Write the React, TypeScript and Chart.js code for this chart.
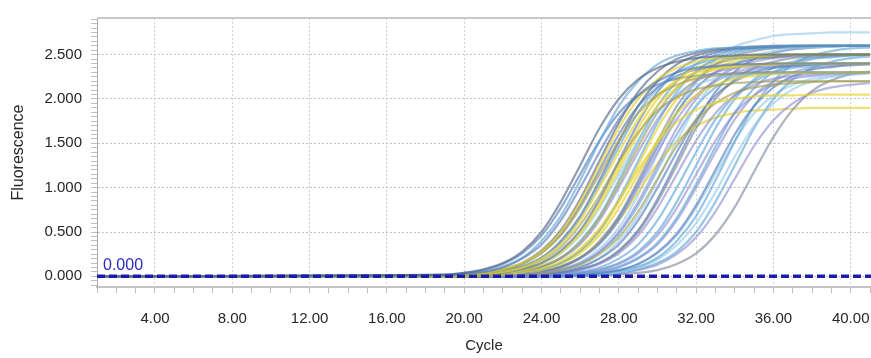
import React, { useEffect, useRef } from "react";
import { Chart, registerables } from "chart.js";

Chart.register(...registerables);

const CYCLES = [1, 19, 20, 21, 22, 23, 24, 25, 26, 27, 28, 29, 30, 31, 32, 33, 34, 35, 36, 37, 38, 39, 40, 41];

// Fluorescence readings per well (one row per curve, values at CYCLES)
const CURVES: number[][] = [
  [0, 0.02, 0.04, 0.08, 0.15, 0.28, 0.50, 0.84, 1.25, 1.67, 2.00, 2.22, 2.35, 2.42, 2.46, 2.48, 2.49, 2.50, 2.50, 2.50, 2.50, 2.50, 2.50, 2.50],
  [0, 0.01, 0.03, 0.05, 0.10, 0.20, 0.36, 0.63, 1.00, 1.40, 1.77, 2.04, 2.20, 2.30, 2.35, 2.37, 2.39, 2.39, 2.40, 2.40, 2.40, 2.40, 2.40, 2.40],
  [0, 0.01, 0.03, 0.06, 0.11, 0.21, 0.40, 0.68, 1.08, 1.52, 1.92, 2.20, 2.39, 2.49, 2.54, 2.57, 2.58, 2.59, 2.60, 2.60, 2.60, 2.60, 2.60, 2.60],
  [0, 0.01, 0.02, 0.04, 0.08, 0.15, 0.28, 0.50, 0.84, 1.25, 1.67, 2.00, 2.22, 2.35, 2.42, 2.46, 2.48, 2.49, 2.50, 2.50, 2.50, 2.50, 2.50, 2.50],
  [0, 0.01, 0.02, 0.04, 0.07, 0.14, 0.26, 0.46, 0.77, 1.15, 1.53, 1.84, 2.04, 2.16, 2.23, 2.26, 2.28, 2.29, 2.30, 2.30, 2.30, 2.30, 2.30, 2.30],
  [0, 0.01, 0.02, 0.04, 0.08, 0.15, 0.29, 0.52, 0.87, 1.30, 1.73, 2.08, 2.31, 2.45, 2.52, 2.56, 2.58, 2.59, 2.60, 2.60, 2.60, 2.60, 2.60, 2.60],
  [0, 0.00, 0.01, 0.03, 0.05, 0.10, 0.20, 0.36, 0.63, 1.00, 1.40, 1.77, 2.04, 2.20, 2.30, 2.35, 2.37, 2.39, 2.40, 2.40, 2.40, 2.40, 2.40, 2.40],
  [0, 0.00, 0.01, 0.03, 0.06, 0.11, 0.21, 0.38, 0.66, 1.04, 1.46, 1.85, 2.12, 2.30, 2.39, 2.45, 2.47, 2.49, 2.50, 2.50, 2.50, 2.50, 2.50, 2.50],
  [0, 0.00, 0.01, 0.02, 0.05, 0.09, 0.18, 0.33, 0.58, 0.91, 1.29, 1.62, 1.87, 2.02, 2.11, 2.15, 2.18, 2.19, 2.20, 2.20, 2.20, 2.20, 2.20, 2.20],
  [0, 0.00, 0.01, 0.02, 0.04, 0.08, 0.15, 0.29, 0.52, 0.87, 1.30, 1.73, 2.08, 2.31, 2.45, 2.52, 2.56, 2.58, 2.59, 2.60, 2.60, 2.60, 2.60, 2.60],
  [0, 0.00, 0.01, 0.02, 0.04, 0.07, 0.14, 0.27, 0.48, 0.80, 1.20, 1.60, 1.92, 2.13, 2.26, 2.33, 2.36, 2.38, 2.39, 2.40, 2.40, 2.40, 2.40, 2.40],
  [0, 0.00, 0.01, 0.02, 0.04, 0.07, 0.14, 0.26, 0.46, 0.77, 1.15, 1.53, 1.84, 2.04, 2.16, 2.23, 2.26, 2.28, 2.29, 2.30, 2.30, 2.30, 2.30, 2.30],
  [0, 0, 0.00, 0.01, 0.03, 0.06, 0.11, 0.21, 0.38, 0.66, 1.04, 1.46, 1.85, 2.12, 2.30, 2.39, 2.45, 2.47, 2.49, 2.50, 2.50, 2.50, 2.50, 2.50],
  [0, 0, 0.00, 0.01, 0.02, 0.05, 0.09, 0.17, 0.31, 0.54, 0.85, 1.20, 1.51, 1.74, 1.88, 1.96, 2.00, 2.03, 2.04, 2.04, 2.05, 2.05, 2.05, 2.05],
  [0, 0, 0.00, 0.01, 0.03, 0.05, 0.10, 0.20, 0.36, 0.63, 1.00, 1.40, 1.77, 2.04, 2.20, 2.30, 2.35, 2.37, 2.39, 2.40, 2.40, 2.40, 2.40, 2.40],
  [0, 0, 0, 0.01, 0.02, 0.04, 0.08, 0.15, 0.29, 0.52, 0.87, 1.30, 1.73, 2.08, 2.31, 2.45, 2.52, 2.56, 2.58, 2.59, 2.60, 2.60, 2.60, 2.60],
  [0, 0, 0, 0.01, 0.02, 0.04, 0.07, 0.14, 0.26, 0.46, 0.77, 1.15, 1.53, 1.84, 2.04, 2.16, 2.23, 2.26, 2.28, 2.29, 2.30, 2.30, 2.30, 2.30],
  [0, 0, 0, 0.00, 0.01, 0.03, 0.06, 0.11, 0.21, 0.38, 0.66, 1.04, 1.46, 1.85, 2.12, 2.30, 2.39, 2.45, 2.47, 2.49, 2.50, 2.50, 2.50, 2.50],
  [0, 0, 0, 0.00, 0.01, 0.03, 0.05, 0.10, 0.20, 0.36, 0.63, 1.00, 1.40, 1.77, 2.04, 2.20, 2.30, 2.35, 2.37, 2.39, 2.40, 2.40, 2.40, 2.40],
  [0, 0, 0, 0, 0.01, 0.02, 0.03, 0.07, 0.13, 0.25, 0.44, 0.73, 1.10, 1.47, 1.76, 1.95, 2.07, 2.13, 2.16, 2.18, 2.19, 2.20, 2.20, 2.20],
  [0, 0, 0, 0, 0.01, 0.02, 0.04, 0.08, 0.15, 0.28, 0.50, 0.84, 1.25, 1.67, 2.00, 2.22, 2.35, 2.42, 2.46, 2.48, 2.49, 2.50, 2.50, 2.50],
  [0, 0, 0, 0, 0.00, 0.01, 0.03, 0.05, 0.10, 0.20, 0.36, 0.63, 1.00, 1.40, 1.77, 2.04, 2.20, 2.30, 2.35, 2.37, 2.39, 2.40, 2.40, 2.40],
  [0, 0, 0, 0, 0.00, 0.01, 0.03, 0.06, 0.11, 0.21, 0.40, 0.68, 1.08, 1.52, 1.92, 2.20, 2.39, 2.49, 2.54, 2.57, 2.58, 2.59, 2.60, 2.60],
  [0, 0, 0, 0, 0, 0.01, 0.02, 0.04, 0.07, 0.14, 0.26, 0.46, 0.77, 1.15, 1.53, 1.84, 2.04, 2.16, 2.23, 2.26, 2.28, 2.29, 2.30, 2.30],
  [0, 0, 0, 0, 0, 0.01, 0.02, 0.04, 0.08, 0.15, 0.28, 0.50, 0.84, 1.25, 1.67, 2.00, 2.22, 2.35, 2.42, 2.46, 2.48, 2.49, 2.50, 2.50],
  [0, 0, 0, 0, 0, 0.00, 0.01, 0.03, 0.05, 0.10, 0.20, 0.36, 0.63, 1.00, 1.40, 1.77, 2.04, 2.20, 2.30, 2.35, 2.37, 2.39, 2.40, 2.40],
  [0, 0, 0, 0, 0, 0, 0.01, 0.02, 0.04, 0.07, 0.14, 0.26, 0.46, 0.77, 1.15, 1.53, 1.84, 2.04, 2.16, 2.23, 2.26, 2.28, 2.29, 2.30],
  [0, 0, 0, 0, 0, 0, 0.00, 0.01, 0.03, 0.06, 0.11, 0.21, 0.38, 0.66, 1.04, 1.46, 1.85, 2.12, 2.30, 2.39, 2.45, 2.47, 2.49, 2.50],
  [0, 0, 0, 0, 0, 0, 0, 0.01, 0.02, 0.04, 0.07, 0.14, 0.27, 0.48, 0.80, 1.20, 1.60, 1.92, 2.13, 2.26, 2.33, 2.36, 2.38, 2.39],
  [0, 0, 0, 0, 0, 0, 0, 0.00, 0.01, 0.03, 0.06, 0.11, 0.21, 0.40, 0.68, 1.08, 1.52, 1.92, 2.20, 2.39, 2.49, 2.54, 2.57, 2.58],
  [0, 0, 0, 0, 0, 0, 0, 0.00, 0.01, 0.03, 0.05, 0.10, 0.19, 0.35, 0.60, 0.95, 1.35, 1.70, 1.95, 2.11, 2.20, 2.25, 2.27, 2.29],
  [0, 0, 0, 0, 0, 0, 0, 0, 0.01, 0.02, 0.04, 0.08, 0.15, 0.28, 0.50, 0.84, 1.25, 1.67, 2.00, 2.22, 2.35, 2.42, 2.46, 2.48],
  [0, 0, 0, 0, 0, 0, 0, 0, 0.01, 0.02, 0.03, 0.07, 0.13, 0.25, 0.44, 0.73, 1.10, 1.47, 1.76, 1.95, 2.07, 2.13, 2.16, 2.18],
  [0, 0, 0, 0, 0, 0, 0, 0, 0, 0.01, 0.02, 0.04, 0.07, 0.14, 0.26, 0.47, 0.78, 1.18, 1.57, 1.88, 2.09, 2.21, 2.28, 2.31],
  [0, 0, 0, 0.01, 0.02, 0.03, 0.06, 0.11, 0.21, 0.38, 0.63, 0.95, 1.27, 1.52, 1.69, 1.79, 1.84, 1.87, 1.88, 1.89, 1.90, 1.90, 1.90, 1.90],
  [0, 0, 0, 0, 0.01, 0.02, 0.04, 0.08, 0.16, 0.31, 0.55, 0.92, 1.38, 1.83, 2.20, 2.44, 2.59, 2.66, 2.71, 2.73, 2.74, 2.75, 2.75, 2.75],
  [0, 0.02, 0.04, 0.07, 0.14, 0.26, 0.46, 0.77, 1.15, 1.53, 1.84, 2.04, 2.16, 2.23, 2.26, 2.28, 2.29, 2.30, 2.30, 2.30, 2.30, 2.30, 2.30, 2.30],
  [0, 0.00, 0.01, 0.02, 0.04, 0.08, 0.15, 0.28, 0.50, 0.84, 1.25, 1.67, 2.00, 2.22, 2.35, 2.42, 2.46, 2.48, 2.49, 2.50, 2.50, 2.50, 2.50, 2.50],
  [0, 0, 0, 0, 0, 0, 0.00, 0.01, 0.03, 0.05, 0.10, 0.20, 0.36, 0.63, 1.00, 1.40, 1.77, 2.04, 2.20, 2.30, 2.35, 2.37, 2.39, 2.40],
  [0, 0, 0, 0.00, 0.01, 0.03, 0.06, 0.11, 0.21, 0.40, 0.68, 1.08, 1.52, 1.92, 2.20, 2.39, 2.49, 2.54, 2.57, 2.58, 2.59, 2.60, 2.60, 2.60],
  [0, 0.01, 0.02, 0.04, 0.07, 0.14, 0.27, 0.48, 0.80, 1.20, 1.60, 1.92, 2.13, 2.26, 2.33, 2.36, 2.38, 2.39, 2.40, 2.40, 2.40, 2.40, 2.40, 2.40],
  [0, 0, 0.00, 0.01, 0.03, 0.06, 0.11, 0.21, 0.40, 0.68, 1.08, 1.52, 1.92, 2.20, 2.39, 2.49, 2.54, 2.57, 2.58, 2.59, 2.60, 2.60, 2.60, 2.60],
  [0, 0, 0, 0.01, 0.02, 0.04, 0.08, 0.15, 0.28, 0.50, 0.84, 1.25, 1.67, 2.00, 2.22, 2.35, 2.42, 2.46, 2.48, 2.49, 2.50, 2.50, 2.50, 2.50],
  [0, 0, 0, 0, 0.01, 0.02, 0.04, 0.07, 0.14, 0.27, 0.48, 0.80, 1.20, 1.60, 1.92, 2.13, 2.26, 2.33, 2.36, 2.38, 2.39, 2.40, 2.40, 2.40],
  [0, 0, 0, 0, 0, 0.01, 0.02, 0.04, 0.08, 0.15, 0.29, 0.52, 0.87, 1.30, 1.73, 2.08, 2.31, 2.45, 2.52, 2.56, 2.58, 2.59, 2.60, 2.60],
  [0, 0, 0, 0, 0, 0, 0.01, 0.02, 0.04, 0.08, 0.15, 0.28, 0.50, 0.84, 1.25, 1.67, 2.00, 2.22, 2.35, 2.42, 2.46, 2.48, 2.49, 2.50],
  [0, 0, 0, 0, 0, 0, 0, 0.01, 0.02, 0.04, 0.07, 0.14, 0.26, 0.46, 0.77, 1.15, 1.53, 1.84, 2.04, 2.16, 2.23, 2.26, 2.28, 2.29],
  [0, 0.00, 0.01, 0.03, 0.06, 0.11, 0.21, 0.40, 0.68, 1.08, 1.52, 1.92, 2.20, 2.39, 2.49, 2.54, 2.57, 2.58, 2.59, 2.60, 2.60, 2.60, 2.60, 2.60],
];

// Threshold
const THRESHOLD = 0.0;

// Axis ticks / labels
const X_MIN = 1;
const X_MAX = 41.05;
const X_LABEL_STEP = 4;
const Y_MIN = -0.12;
const Y_MAX = 2.913;
const Y_LABELS = [0, 0.5, 1.0, 1.5, 2.0, 2.5];

// Styles (kept apart from data)
const SLATE = "rgba(78,96,130,0.62)";
const STEEL = "rgba(80,120,182,0.62)";
const LBLUE = "rgba(96,166,214,0.64)";
const SKY = "rgba(145,200,234,0.6)";
const YELLOW = "rgba(232,210,45,0.68)";
const OLIVE = "rgba(160,156,80,0.62)";
const LAV = "rgba(136,136,208,0.6)";
const GRAY = "rgba(122,132,152,0.62)";
const CURVE_COLORS = [
  SLATE, STEEL, LBLUE, YELLOW, OLIVE, SLATE, YELLOW, LBLUE, OLIVE, STEEL,
  YELLOW, SKY, OLIVE, YELLOW, LAV, LBLUE, YELLOW, STEEL, LAV, OLIVE,
  LAV, STEEL, SKY, LAV, GRAY, LBLUE, LAV, LBLUE, STEEL, LBLUE,
  SKY, LBLUE, LAV, GRAY, YELLOW, SKY, STEEL, YELLOW, LAV, GRAY,
  STEEL, LBLUE, YELLOW, LBLUE, STEEL, LBLUE, SKY, SLATE,
];

const FONT = "Liberation Sans";
const TEXT = "#262626";

export default function App() {
  const ref = useRef<HTMLCanvasElement | null>(null);

  useEffect(() => {
    if (!ref.current) return;

    const xTicks: number[] = [];
    for (let c = Math.ceil(X_MIN); c <= Math.floor(X_MAX); c++) xTicks.push(c);
    const yTicks: number[] = [];
    for (let k = Math.ceil(Y_MIN / 0.05); k * 0.05 <= Y_MAX; k++) yTicks.push(Math.round(k * 5) / 100);
    const isYLabel = (v: number) => Y_LABELS.some((l) => Math.abs(l - v) < 1e-6);

    const overlay = {
      id: "overlay",
      afterDatasetsDraw(chart: any) {
        const { ctx, chartArea, scales } = chart;
        ctx.save();
        ctx.strokeStyle = "#c8c8c8";
        ctx.lineWidth = 2;
        ctx.beginPath();
        ctx.moveTo(chartArea.left, chartArea.top);
        ctx.lineTo(chartArea.right, chartArea.top);
        ctx.stroke();
        const x = scales.x.getPixelForValue(X_MIN) + 6;
        const y = scales.y.getPixelForValue(THRESHOLD);
        ctx.fillStyle = "#2a2ac0";
        ctx.font = `16px "${FONT}"`;
        ctx.textBaseline = "alphabetic";
        ctx.textAlign = "left";
        ctx.fillText(THRESHOLD.toFixed(3), x, y - 6);
        ctx.restore();
      },
    };

    const datasets: any[] = CURVES.map((vals, i) => ({
      data: CYCLES.map((c, j) => ({ x: c, y: vals[j] })),
      borderColor: CURVE_COLORS[i % CURVE_COLORS.length],
      borderWidth: 2.2,
      pointRadius: 0,
      fill: false,
      cubicInterpolationMode: "monotone",
    }));
    datasets.push({
      data: [
        { x: X_MIN, y: THRESHOLD },
        { x: X_MAX, y: THRESHOLD },
      ],
      borderColor: "#1c1cab",
      borderWidth: 3.5,
      borderDash: [8, 4],
      pointRadius: 0,
      fill: false,
      order: -1,
    });

    const chart = new Chart(ref.current, {
      type: "line",
      data: { datasets },
      plugins: [overlay],
      options: {
        animation: false,
        responsive: false,
        events: [],
        layout: { padding: { left: 0, top: 10, right: 0, bottom: 0 } },
        plugins: { legend: { display: false }, tooltip: { enabled: false } },
        scales: {
          x: {
            type: "linear",
            min: X_MIN,
            max: X_MAX,
            afterBuildTicks: (s: any) => {
              s.ticks = xTicks.map((v) => ({ value: v }));
            },
            afterFit: (s: any) => {
              s.height = 71;
              s.paddingLeft = 0;
              s.paddingRight = 0;
            },
            ticks: {
              autoSkip: false,
              maxRotation: 0,
              padding: 17,
              color: TEXT,
              font: { family: FONT, size: 15 },
              callback: (v: any) => (Number(v) % X_LABEL_STEP === 0 ? Number(v).toFixed(2) : ""),
            },
            grid: {
              color: (ctx: any) =>
                ctx.tick && ctx.tick.value % X_LABEL_STEP === 0 && ctx.tick.value !== X_MIN ? "#d2d2d2" : "rgba(0,0,0,0)",
              tickColor: "#bdbdbd",
              tickLength: 6,
              lineWidth: 1,
            },
            border: { color: "#c4c4c4", width: 2, dash: [2, 2] },
            title: {
              display: true,
              text: "Cycle",
              color: TEXT,
              font: { family: FONT, size: 15 },
              padding: { top: 0, bottom: 3 },
            },
          },
          y: {
            type: "linear",
            min: Y_MIN,
            max: Y_MAX,
            afterBuildTicks: (s: any) => {
              s.ticks = yTicks.map((v) => ({ value: v }));
            },
            afterFit: (s: any) => {
              s.width = 97;
            },
            ticks: {
              autoSkip: false,
              padding: 9,
              color: TEXT,
              font: { family: FONT, size: 15 },
              callback: (v: any) => (isYLabel(Number(v)) ? Number(v).toFixed(3) : ""),
            },
            grid: {
              color: (ctx: any) => (ctx.tick && isYLabel(ctx.tick.value) ? "#c4c4c4" : "rgba(0,0,0,0)"),
              tickColor: "#c0c0c0",
              tickLength: 6,
              lineWidth: 1,
            },
            border: { color: "#ababab", width: 1, dash: [2, 2] },
            title: {
              display: true,
              text: "Fluorescence",
              color: TEXT,
              font: { family: FONT, size: 16 },
              padding: { top: 9, bottom: 0 },
            },
          },
        },
      } as any,
    });
    return () => chart.destroy();
  }, []);

  return (
    <div style={{ position: "absolute", left: 0, top: 0, width: 871, height: 358, background: "#fff" }}>
      <canvas ref={ref} width={871} height={358} style={{ display: "block" }} />
    </div>
  );
}
